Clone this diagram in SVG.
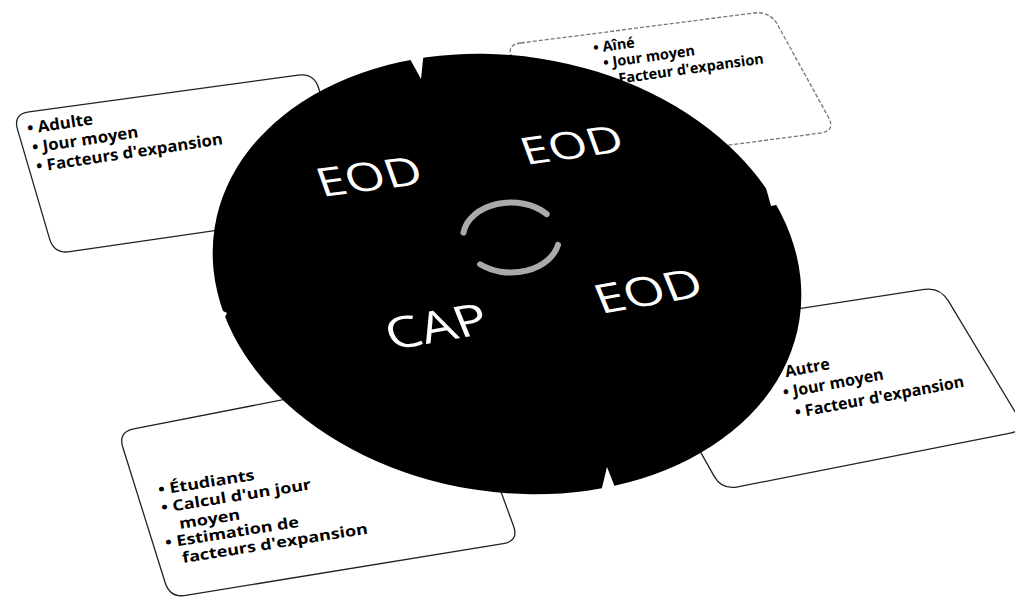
<svg xmlns="http://www.w3.org/2000/svg" width="1015" height="599" viewBox="0 0 1015 599">
<style>
.box{fill:#fff;stroke:#222;stroke-width:1.3}
.box.faint{stroke:#777;stroke-dasharray:4 2}
.bt{font-family:"Open Sans","Noto Sans",sans-serif;font-weight:700;fill:#000}
.big{font-family:"Open Sans","Noto Sans",sans-serif;font-weight:400;fill:#fff}
.notch{fill:#fff}
.cyc{fill:none;stroke:#aaaaaa;stroke-width:6;stroke-linecap:round}
</style>
<rect width="1015" height="599" fill="#fff"/>
<g id="box-adulte">
<path class="box" d="M 28.9 111.8 L 298.1 75.2 Q 314 73 318.7 88.3 L 351.3 194.7 Q 356 210 340.2 212.3 L 69.8 251.7 Q 54 254 49.5 238.6 L 17.5 129.4 Q 13 114 28.9 111.8 Z"/>
<g class="bt" font-size="16">
<text transform="translate(28,134) rotate(-8.5) scale(1.05,1)">• Adulte</text>
<text transform="translate(33,153) rotate(-8.5) scale(1.05,1)">• Jour moyen</text>
<text transform="translate(37,172) rotate(-8.5) scale(1.05,1)">• Facteurs d'expansion</text>
</g>
</g>
<g id="box-aine">
<path class="box faint" d="M 520.9 43 L 754.1 13 Q 770 11 777.7 25 L 828.3 117 Q 836 131 820.1 133.1 L 586.9 163.9 Q 571 166 563.3 152 L 512.7 59 Q 505 45 520.9 43 Z"/>
<g class="bt" font-size="14.5">
<text transform="translate(594,53) rotate(-8)">• Aîné</text>
<text transform="translate(604,68) rotate(-8)">• Jour moyen</text>
<text transform="translate(610,85) rotate(-8)">• Facteur d'expansion</text>
</g>
</g>
<g id="box-autre">
<path class="box" d="M 649.8 331.6 L 924.2 289.4 Q 940 287 948.2 300.7 L 1017.8 416.3 Q 1026 430 1010.3 433.1 L 737.7 486.9 Q 722 490 714.1 476.1 L 641.9 347.9 Q 634 334 649.8 331.6 Z"/>
<g class="bt" font-size="16">
<text transform="translate(776,379) rotate(-10.5)">• Autre</text>
<text transform="translate(784,398) rotate(-10.5)">• Jour moyen</text>
<text transform="translate(796,418) rotate(-10.5)">• Facteur d'expansion</text>
</g>
</g>
<g id="box-etudiants">
<path class="box" d="M 133.7 428.9 L 439.3 369.1 Q 455 366 460.5 381 L 513.5 526 Q 519 541 503.2 543.6 L 185.8 595.4 Q 170 598 165.2 582.7 L 122.8 447.3 Q 118 432 133.7 428.9 Z"/>
<g class="bt" font-size="15">
<text transform="translate(159,495) rotate(-9) scale(1.2,1)">• Étudiants</text>
<text transform="translate(162,513) rotate(-9) scale(1.2,1)">• Calcul d'un jour</text>
<text transform="translate(180,529) rotate(-9) scale(1.2,1)">moyen</text>
<text transform="translate(166,548) rotate(-9) scale(1.2,1)">• Estimation de</text>
<text transform="translate(183,563) rotate(-9) scale(1.2,1)">facteurs d'expansion</text>
</g>
</g>
<g id="cycle">
<ellipse cx="507" cy="274" rx="296" ry="218" transform="rotate(9 507 274)" fill="#000"/>
<polygon class="notch" points="405,50 421,79 424,50"/>
<polygon class="notch" points="599,500 607,467 620,500"/>
<polygon class="notch" points="766,188 771,206 786,203 780,188"/>
<polygon class="notch" points="212,306 221,310 227,313 223,321 212,321"/>
<text class="big" font-size="40" transform="translate(322,197) rotate(-7.5) skewX(12) scale(1.27,1)">EOD</text>
<text class="big" font-size="38" transform="translate(526,165) rotate(-8) skewX(12) scale(1.3,1)">EOD</text>
<text class="big" font-size="41" transform="translate(601,314) rotate(-10) skewX(12) scale(1.27,1)">EOD</text>
<text class="big" font-size="44" transform="translate(392,350) rotate(-10) skewX(12) scale(1.25,1)">CAP</text>
</g>
<g id="connectors">
<path class="cyc" d="M 463.5 232.6 A 48 35 0 0 1 546.7 214.1"/>
<path class="cyc" d="M 558 244.8 A 48 35 0 0 1 480.1 264.3"/>
</g>
</svg>
